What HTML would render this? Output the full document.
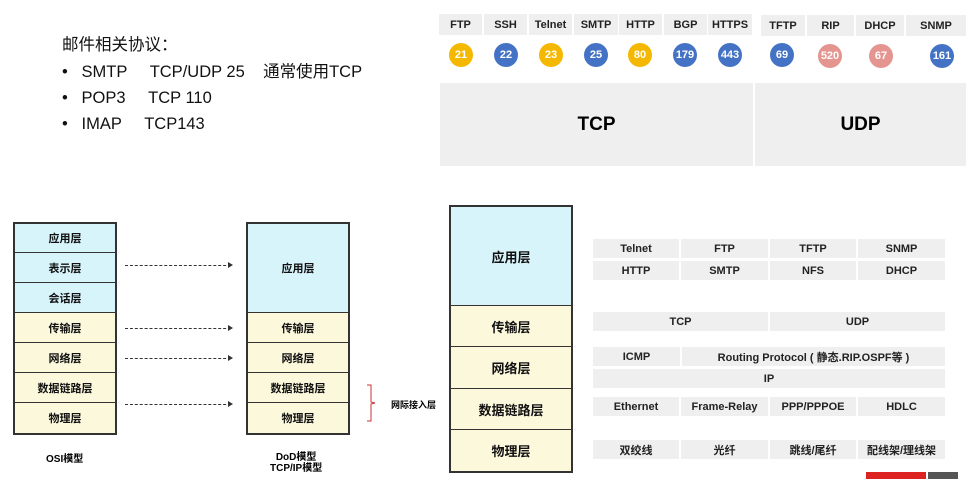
<!DOCTYPE html>
<html><head><meta charset="utf-8"><style>
body{margin:0;width:966px;height:479px;background:#fff;position:relative;overflow:hidden;font-family:"Liberation Sans","Noto Sans CJK SC",sans-serif;}
.a{position:absolute;box-sizing:border-box;display:flex;align-items:center;justify-content:center;text-align:center;}
.g{background:#efefef;font-weight:bold;font-size:11px;color:#222;}
.c{border-radius:50%;color:#fff;font-weight:bold;font-size:11px;width:24px;height:24px;}
.y{background:#f5b800}.b{background:#4472c4}.p{background:#e59590}
.L{font-weight:bold;font-size:11px;color:#111;border-bottom:1px solid #333;}
.bl{background:#d8f4fb}.yl{background:#fbf8dc}
.t{position:absolute;font-size:16.5px;line-height:20px;height:20px;color:#111;white-space:pre;}
.ar{position:absolute;height:0;border-top:1px dashed #333;}
.ar:after{content:"";position:absolute;right:-2px;top:-4px;border-left:5px solid #333;border-top:3px solid transparent;border-bottom:3px solid transparent;}
</style></head><body>
<div class="t" style="left:62px;top:35px">邮件相关协议：</div>
<div class="t" style="left:62px;top:62px">•   SMTP     TCP/UDP 25    通常使用TCP</div>
<div class="t" style="left:62px;top:88px">•   POP3     TCP 110</div>
<div class="t" style="left:62px;top:114px">•   IMAP     TCP143</div>

<div class="a g" style="left:439px;top:14px;width:43px;height:21px">FTP</div>
<div class="a g" style="left:484px;top:14px;width:43px;height:21px">SSH</div>
<div class="a g" style="left:529px;top:14px;width:43px;height:21px">Telnet</div>
<div class="a g" style="left:574px;top:14px;width:44px;height:21px">SMTP</div>
<div class="a g" style="left:619px;top:14px;width:43px;height:21px">HTTP</div>
<div class="a g" style="left:664px;top:14px;width:43px;height:21px">BGP</div>
<div class="a g" style="left:708px;top:14px;width:44px;height:21px">HTTPS</div>
<div class="a g" style="left:761px;top:15px;width:44px;height:21px">TFTP</div>
<div class="a g" style="left:807px;top:15px;width:47px;height:21px">RIP</div>
<div class="a g" style="left:856px;top:15px;width:48px;height:21px">DHCP</div>
<div class="a g" style="left:906px;top:15px;width:60px;height:21px">SNMP</div>

<div class="a c y" style="left:449px;top:43px">21</div>
<div class="a c b" style="left:494px;top:43px">22</div>
<div class="a c y" style="left:539px;top:43px">23</div>
<div class="a c b" style="left:584px;top:43px">25</div>
<div class="a c y" style="left:628px;top:43px">80</div>
<div class="a c b" style="left:673px;top:43px">179</div>
<div class="a c b" style="left:718px;top:43px">443</div>
<div class="a c b" style="left:770px;top:43px">69</div>
<div class="a c p" style="left:818px;top:44px">520</div>
<div class="a c p" style="left:869px;top:44px">67</div>
<div class="a c b" style="left:930px;top:44px">161</div>

<div class="a g" style="left:440px;top:83px;width:313px;height:83px;font-size:19px;color:#000">TCP</div>
<div class="a g" style="left:755px;top:83px;width:211px;height:83px;font-size:19px;color:#000">UDP</div>

<div style="position:absolute;left:13px;top:222px;width:104px;height:213px;border:2px solid #333;box-sizing:border-box"></div>
<div class="a L bl" style="left:15px;top:224px;width:100px;height:29px">应用层</div>
<div class="a L bl" style="left:15px;top:253px;width:100px;height:30px">表示层</div>
<div class="a L bl" style="left:15px;top:283px;width:100px;height:30px">会话层</div>
<div class="a L yl" style="left:15px;top:313px;width:100px;height:30px">传输层</div>
<div class="a L yl" style="left:15px;top:343px;width:100px;height:30px">网络层</div>
<div class="a L yl" style="left:15px;top:373px;width:100px;height:30px">数据链路层</div>
<div class="a L yl" style="left:15px;top:403px;width:100px;height:30px;border:none">物理层</div>

<div style="position:absolute;left:246px;top:222px;width:104px;height:213px;border:2px solid #333;box-sizing:border-box"></div>
<div class="a L bl" style="left:248px;top:224px;width:100px;height:89px">应用层</div>
<div class="a L yl" style="left:248px;top:313px;width:100px;height:30px">传输层</div>
<div class="a L yl" style="left:248px;top:343px;width:100px;height:30px">网络层</div>
<div class="a L yl" style="left:248px;top:373px;width:100px;height:30px">数据链路层</div>
<div class="a L yl" style="left:248px;top:403px;width:100px;height:30px;border:none">物理层</div>

<div class="ar" style="left:125px;top:265px;width:106px"></div>
<div class="ar" style="left:125px;top:328px;width:106px"></div>
<div class="ar" style="left:125px;top:358px;width:106px"></div>
<div class="ar" style="left:125px;top:404px;width:106px"></div>

<svg style="position:absolute;left:364px;top:383px" width="16" height="40"><path d="M3 2 H7 V19 L11 20 L7 21 V38 H3" fill="none" stroke="#c33" stroke-width="1"/></svg>
<div style="position:absolute;left:391px;top:398px;font-size:9px;font-weight:bold">网际接入层</div>
<div style="position:absolute;left:46px;top:450px;font-size:10px;font-weight:bold">OSI模型</div>
<div style="position:absolute;left:270px;top:452px;font-size:10px;font-weight:bold;text-align:center;line-height:11px">DoD模型<br>TCP/IP模型</div>

<div style="position:absolute;left:449px;top:205px;width:124px;height:268px;border:2px solid #333;box-sizing:border-box"></div>
<div class="a L bl" style="left:451px;top:207px;width:120px;height:99px;font-size:13px">应用层</div>
<div class="a L yl" style="left:451px;top:306px;width:120px;height:41px;font-size:13px">传输层</div>
<div class="a L yl" style="left:451px;top:347px;width:120px;height:42px;font-size:13px">网络层</div>
<div class="a L yl" style="left:451px;top:389px;width:120px;height:41px;font-size:13px">数据链路层</div>
<div class="a L yl" style="left:451px;top:430px;width:120px;height:41px;font-size:13px;border:none">物理层</div>

<div class="a g" style="left:593px;top:239px;width:86px;height:19px">Telnet</div>
<div class="a g" style="left:681px;top:239px;width:87px;height:19px">FTP</div>
<div class="a g" style="left:770px;top:239px;width:86px;height:19px">TFTP</div>
<div class="a g" style="left:858px;top:239px;width:87px;height:19px">SNMP</div>
<div class="a g" style="left:593px;top:261px;width:86px;height:19px">HTTP</div>
<div class="a g" style="left:681px;top:261px;width:87px;height:19px">SMTP</div>
<div class="a g" style="left:770px;top:261px;width:86px;height:19px">NFS</div>
<div class="a g" style="left:858px;top:261px;width:87px;height:19px">DHCP</div>
<div class="a g" style="left:593px;top:312px;width:175px;height:19px">TCP</div>
<div class="a g" style="left:770px;top:312px;width:175px;height:19px">UDP</div>
<div class="a g" style="left:593px;top:347px;width:87px;height:19px">ICMP</div>
<div class="a g" style="left:682px;top:347px;width:263px;height:19px">Routing Protocol ( 静态.RIP.OSPF等 )</div>
<div class="a g" style="left:593px;top:369px;width:352px;height:19px">IP</div>
<div class="a g" style="left:593px;top:397px;width:86px;height:19px">Ethernet</div>
<div class="a g" style="left:681px;top:397px;width:87px;height:19px">Frame-Relay</div>
<div class="a g" style="left:770px;top:397px;width:86px;height:19px">PPP/PPPOE</div>
<div class="a g" style="left:858px;top:397px;width:87px;height:19px">HDLC</div>
<div class="a g" style="left:593px;top:440px;width:86px;height:19px">双绞线</div>
<div class="a g" style="left:681px;top:440px;width:87px;height:19px">光纤</div>
<div class="a g" style="left:770px;top:440px;width:86px;height:19px">跳线/尾纤</div>
<div class="a g" style="left:858px;top:440px;width:87px;height:19px">配线架/理线架</div>
<div style="position:absolute;left:866px;top:472px;width:60px;height:7px;background:#d22"></div>
<div style="position:absolute;left:928px;top:472px;width:30px;height:7px;background:#555"></div>
</body></html>
